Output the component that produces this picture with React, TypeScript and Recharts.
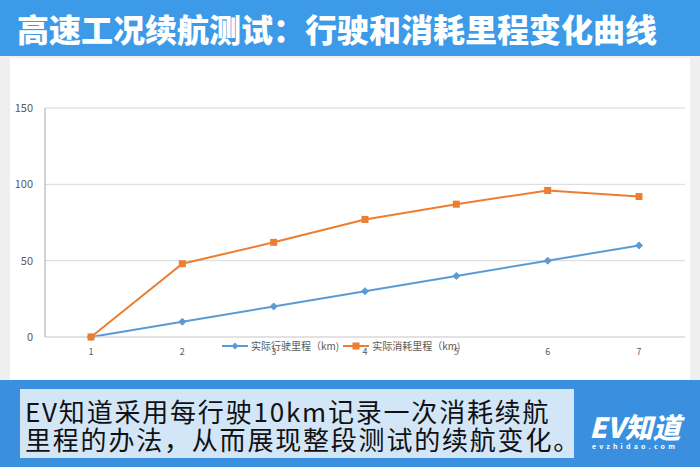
import { LineChart, Line, XAxis, YAxis, CartesianGrid } from "recharts";

const points = ["1", "2", "3", "4", "5", "6", "7"];
const actualKm = [0, 10, 20, 30, 40, 50, 60]; // 实际行驶里程
const consumedKm = [0, 48, 62, 77, 87, 96, 92]; // 实际消耗里程
const yTicks = [0, 50, 100, 150];

const data = points.map((p, i) => ({
  p,
  actual: actualKm[i],
  consumed: consumedKm[i],
}));

const BLUE = "#5b9bd5";
const ORANGE = "#ed7d31";

const Diamond = (props: any) => {
  const { cx, cy } = props;
  if (cx == null || cy == null) return null;
  return (
    <path
      d={`M${cx},${cy - 3.5}L${cx + 3.5},${cy}L${cx},${cy + 3.5}L${cx - 3.5},${cy}Z`}
      fill={BLUE}
      stroke={BLUE}
    />
  );
};

const Square = (props: any) => {
  const { cx, cy } = props;
  if (cx == null || cy == null) return null;
  return <rect x={cx - 3.5} y={cy - 3.5} width={7} height={7} fill={ORANGE} />;
};

export default function App() {
  return (
    <div
      style={{
        position: "absolute",
        left: 0,
        top: 0,
        width: 700,
        height: 467,
        background: "#efefef",
        fontFamily: "'Noto Sans CJK SC', 'Noto Sans', sans-serif",
        overflow: "hidden",
      }}
    >
      {/* 标题栏 */}
      <div
        style={{
          position: "absolute",
          left: 0,
          top: 0,
          width: 700,
          height: 56,
          background: "#3d9ae8",
          color: "#fff",
          fontWeight: 900,
          fontSize: 32,
          lineHeight: "56px",
          paddingLeft: 17,
          boxSizing: "border-box",
          whiteSpace: "nowrap",
        }}
      >
        高速工况续航测试：行驶和消耗里程变化曲线
      </div>

      {/* 图表区域 */}
      <div
        style={{
          position: "absolute",
          left: 10,
          top: 58,
          width: 680,
          height: 322,
          background: "#fff",
        }}
      >
        <LineChart
          width={680}
          height={322}
          data={data}
          margin={{ top: 50, right: 5, left: 0, bottom: 23 }}
        >
          <CartesianGrid vertical={false} stroke="#d9d9d9" />
          <XAxis
            dataKey="p"
            axisLine={{ stroke: "#d9d9d9" }}
            tickLine={false}
            tick={{ fontSize: 9, fill: "#595959" }}
            tickMargin={6}
            height={20}
            padding={{ left: 46, right: 46 }}
          />
          <YAxis
            domain={[0, 150]}
            ticks={yTicks}
            axisLine={{ stroke: "#a6a6a6" }}
            tickLine={false}
            tick={{ fontSize: 11, fill: "#595959" }}
            width={35}
            tickMargin={6}
          />
          <Line
            type="linear"
            dataKey="actual"
            name="实际行驶里程（km)"
            stroke={BLUE}
            strokeWidth={2}
            dot={<Diamond />}
            activeDot={false}
            isAnimationActive={false}
          />
          <Line
            type="linear"
            dataKey="consumed"
            name="实际消耗里程（km)"
            stroke={ORANGE}
            strokeWidth={2}
            dot={<Square />}
            activeDot={false}
            isAnimationActive={false}
          />
        </LineChart>

        {/* 图例 */}
        <div
          style={{
            position: "absolute",
            left: 212,
            top: 282,
            display: "flex",
            gap: 4,
            fontSize: 10,
            color: "#595959",
            lineHeight: "12px",
          }}
        >
          <span style={{ display: "flex", alignItems: "center" }}>
            <svg width={26} height={10}>
              <line x1={0} y1={5} x2={26} y2={5} stroke={BLUE} strokeWidth={2} />
              <path d="M13,1.5L16.5,5L13,8.5L9.5,5Z" fill={BLUE} />
            </svg>
            <span style={{ marginLeft: 3 }}>实际行驶里程（km)</span>
          </span>
          <span style={{ display: "flex", alignItems: "center" }}>
            <svg width={26} height={10}>
              <line x1={0} y1={5} x2={26} y2={5} stroke={ORANGE} strokeWidth={2} />
              <rect x={9.5} y={1.5} width={7} height={7} fill={ORANGE} />
            </svg>
            <span style={{ marginLeft: 3 }}>实际消耗里程（km)</span>
          </span>
        </div>
      </div>

      {/* 底部说明栏 */}
      <div
        style={{
          position: "absolute",
          left: 0,
          top: 380,
          width: 700,
          height: 87,
          background: "#3a8fdf",
        }}
      />
      <div
        style={{
          position: "absolute",
          left: 20,
          top: 389,
          width: 554,
          height: 69,
          background: "#d3e6f8",
          color: "#111",
          fontSize: 26,
          lineHeight: "28px",
          paddingLeft: 5,
          paddingTop: 8,
          boxSizing: "border-box",
          whiteSpace: "nowrap",
          letterSpacing: 1.8,
        }}
      >
        <div>EV知道采用每行驶10km记录一次消耗续航</div>
        <div>里程的办法，从而展现整段测试的续航变化。</div>
      </div>
      <div
        style={{
          position: "absolute",
          left: 586,
          top: 411,
          width: 98,
          color: "#fff",
          textAlign: "center",
        }}
      >
        <div style={{ fontSize: 28, fontWeight: 900, fontStyle: "italic", lineHeight: "30px" }}>
          EV知道
        </div>
        <div style={{ fontSize: 7, letterSpacing: 3.2, fontWeight: 700, lineHeight: "10px" }}>
          evzhidao.com
        </div>
      </div>
    </div>
  );
}
